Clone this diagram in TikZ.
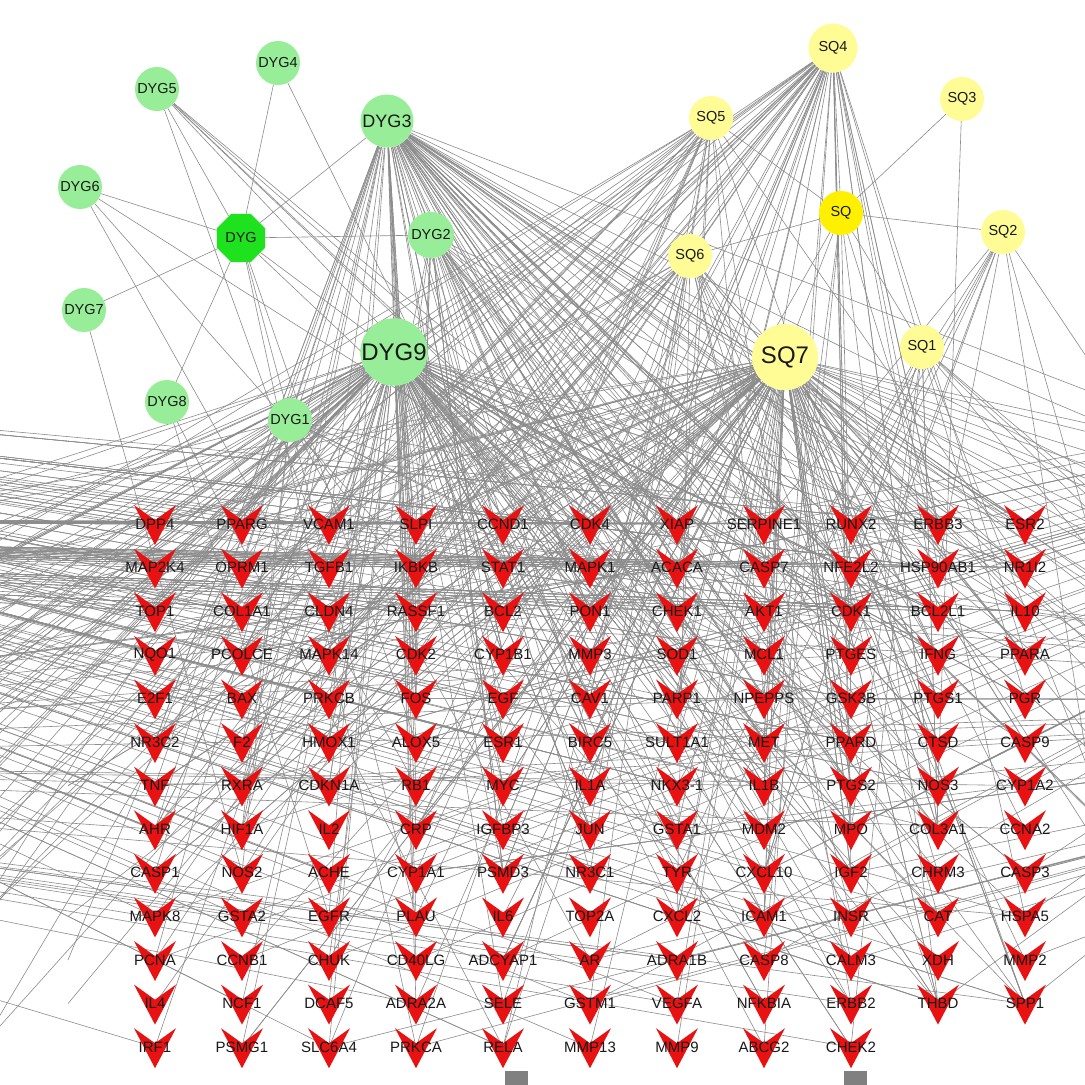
\documentclass[tikz,border=0pt]{standalone}
\usepackage{fontspec}
\setmainfont{Liberation Sans}
\usepackage{tikz}
\usetikzlibrary{shapes.geometric}
\usepackage{xcolor}

\pgfdeclarelayer{links}
\pgfsetlayers{links,main}

\definecolor{herbgreen}{RGB}{152,238,152}
\definecolor{hubgreen}{RGB}{30,226,30}
\definecolor{herbyellow}{RGB}{255,252,150}
\definecolor{hubyellow}{RGB}{255,240,0}
\definecolor{veered}{RGB}{232,18,18}
\definecolor{linkgray}{RGB}{140,140,140}

% #1 source, #2 how many, #3-#4 columns, #5-#6 rows
\newcommand\fan[6]{%
  \foreach \k in {1,...,#2}{%
    \pgfmathrandominteger{\c}{#3}{#4}%
    \pgfmathrandominteger{\r}{#5}{#6}%
    \ifnum\r=13 \ifnum\c>9 \def\r{12}\fi\fi
    \draw[link] (#1) -- (t\c-\r.center);
  }}

\begin{document}
\begin{tikzpicture}[x=1pt, y=-1pt,
    herb/.style={circle, fill=herbgreen, minimum size=44pt, inner sep=0pt, text=black!90, font=\fontsize{14.5}{14.5}\selectfont},
    sqherb/.style={herb, fill=herbyellow},
    hub/.style={regular polygon, regular polygon sides=8, fill=hubgreen, minimum size=52pt, inner sep=0pt, text=black!90, font=\fontsize{14.5}{14.5}\selectfont},
    gene/.style={inner sep=0pt, text=black!90, font=\fontsize{15}{15}\selectfont},
    stub/.style={rectangle, fill=black!50, minimum size=23pt, inner sep=0pt},
    link/.style={draw=linkgray, line width=0.6pt},
    vee/.pic={\fill[veered] (-21,-19) -- (0,-4) -- (21,-19) -- (0,21) -- cycle;}
]
\useasboundingbox (0,0) rectangle (1085,1085);
\clip (0,0) rectangle (1085,1085);

% DYG herbs
\node[hub] (DYG) at (241,238) {DYG};
\node[herb] (DYG4) at (278,63) {DYG4};
\node[herb] (DYG5) at (157,89) {DYG5};
\node[herb, minimum size=53pt, font=\fontsize{18}{18}\selectfont] (DYG3) at (387,121) {DYG3};
\node[herb] (DYG6) at (80,187) {DYG6};
\node[herb, minimum size=46pt] (DYG2) at (431,235) {DYG2};
\node[herb] (DYG7) at (84,310) {DYG7};
\node[herb, minimum size=66pt, font=\fontsize{24}{24}\selectfont] (DYG9) at (394,352) {DYG9};
\node[herb] (DYG8) at (167,402) {DYG8};
\node[herb] (DYG1) at (290,420) {DYG1};

% SQ herbs
\node[sqherb, fill=hubyellow] (SQ) at (841,213) {SQ};
\node[sqherb, minimum size=49pt] (SQ4) at (833,48) {SQ4};
\node[sqherb] (SQ3) at (962,99) {SQ3};
\node[sqherb] (SQ5) at (711,118) {SQ5};
\node[sqherb] (SQ2) at (1003,232) {SQ2};
\node[sqherb] (SQ6) at (690,256) {SQ6};
\node[sqherb] (SQ1) at (922,347) {SQ1};
\node[sqherb, minimum size=66pt, font=\fontsize{24}{24}\selectfont] (SQ7) at (785,357) {SQ7};

% Targets
\foreach \col [count=\c] in {
    {DPP4,MAP2K4,TOP1,NQO1,E2F1,NR3C2,TNF,AHR,CASP1,MAPK8,PCNA,IL4,IRF1},
    {PPARG,OPRM1,COL1A1,PCOLCE,BAX,F2,RXRA,HIF1A,NOS2,GSTA2,CCNB1,NCF1,PSMG1},
    {VCAM1,TGFB1,CLDN4,MAPK14,PRKCB,HMOX1,CDKN1A,IL2,ACHE,EGFR,CHUK,DCAF5,SLC6A4},
    {SLPI,IKBKB,RASSF1,CDK2,FOS,ALOX5,RB1,CRP,CYP1A1,PLAU,CD40LG,ADRA2A,PRKCA},
    {CCND1,STAT1,BCL2,CYP1B1,EGF,ESR1,MYC,IGFBP3,PSMD3,IL6,ADCYAP1,SELE,RELA},
    {CDK4,MAPK1,PON1,MMP3,CAV1,BIRC5,IL1A,JUN,NR3C1,TOP2A,AR,GSTM1,MMP13},
    {XIAP,ACACA,CHEK1,SOD1,PARP1,SULT1A1,NKX3-1,GSTA1,TYR,CXCL2,ADRA1B,VEGFA,MMP9},
    {SERPINE1,CASP7,AKT1,MCL1,NPEPPS,MET,IL1B,MDM2,CXCL10,ICAM1,CASP8,NFKBIA,ABCG2},
    {RUNX2,NFE2L2,CDK1,PTGES,GSK3B,PPARD,PTGS2,MPO,IGF2,INSR,CALM3,ERBB2,CHEK2},
    {ERBB3,HSP90AB1,BCL2L1,IFNG,PTGS1,CTSD,NOS3,COL3A1,CHRM3,CAT,XDH,THBD},
    {ESR2,NR1I2,IL10,PPARA,PGR,CASP9,CYP1A2,CCNA2,CASP3,HSPA5,MMP2,SPP1}}{
  \foreach \g [count=\r] in \col {
    \pic at ({155+87*(\c-1)},{524+43.6*(\r-1)}) {vee};
    \node[gene] (t\c-\r) at ({155+87*(\c-1)},{524+43.6*(\r-1)}) {\g};
  }}

% cut-off nodes at the bottom
\node[stub] (stubA) at (516,1082) {};
\node[stub] (stubB) at (855,1082) {};

% targets and herbs beyond the frame
\foreach \c in {-5,...,0}
  \foreach \r in {1,...,13}
    \coordinate (t\c-\r) at ({155+87*(\c-1)},{524+43.6*(\r-1)});
\foreach \c in {12,...,17}
  \foreach \r in {1,...,13}
    \coordinate (t\c-\r) at ({155+87*(\c-1)},{524+43.6*(\r-1)});
\coordinate (farA) at (-1100,330);
\coordinate (farB) at (-1600,515);
\coordinate (farC) at (-800,760);
\coordinate (farD) at (1900,300);
\coordinate (farE) at (1700,700);

\begin{pgfonlayer}{links}
\fill[white] (0,0) rectangle (1085,1085);
\pgfmathsetseed{11}
% herb to formula
\foreach \h in {DYG1,DYG2,DYG3,DYG4,DYG5,DYG6,DYG7,DYG8,DYG9}
  \draw[link] (DYG) -- (\h);
\foreach \h in {SQ1,SQ2,SQ3,SQ4,SQ5,SQ6,SQ7}
  \draw[link] (SQ) -- (\h);
% herb to target
\fan{DYG9}{75}{1}{11}{1}{13}
\fan{DYG9}{35}{1}{11}{1}{8}
\fan{DYG9}{35}{-5}{0}{1}{13}
\fan{SQ7}{75}{1}{11}{1}{13}
\fan{SQ7}{35}{1}{11}{1}{8}
\fan{SQ7}{12}{-5}{0}{1}{13}
\fan{SQ7}{15}{12}{17}{1}{13}
\fan{DYG3}{50}{1}{11}{1}{13}
\fan{DYG3}{20}{4}{11}{1}{8}
\fan{DYG3}{14}{12}{17}{1}{13}
\fan{DYG2}{28}{3}{11}{1}{13}
\fan{SQ4}{40}{1}{11}{1}{13}
\fan{SQ4}{8}{-3}{0}{1}{13}
\fan{SQ5}{20}{1}{11}{1}{13}
\fan{SQ5}{6}{-4}{0}{1}{13}
\fan{SQ6}{20}{1}{11}{1}{13}
\fan{SQ6}{6}{-4}{0}{1}{13}
\fan{SQ}{6}{5}{11}{1}{13}
\fan{SQ2}{8}{6}{11}{1}{13}
\fan{SQ2}{3}{12}{15}{1}{13}
\fan{SQ1}{8}{7}{11}{1}{13}
\fan{SQ1}{6}{12}{17}{1}{13}
\fan{SQ3}{1}{10}{10}{1}{13}
\fan{DYG5}{6}{3}{11}{1}{13}
\fan{DYG6}{3}{2}{8}{1}{13}
\fan{DYG7}{1}{2}{3}{1}{13}
\fan{DYG8}{2}{2}{5}{1}{13}
\fan{DYG1}{10}{1}{11}{1}{13}
\fan{DYG1}{4}{-4}{0}{1}{13}
\fan{DYG4}{1}{4}{8}{1}{13}
\fan{DYG}{3}{2}{6}{1}{13}
% herbs outside the frame
\fan{farA}{80}{1}{11}{1}{13}
\fan{farA}{40}{1}{11}{1}{7}
\fan{farB}{80}{1}{11}{1}{3}
\fan{farC}{30}{1}{11}{1}{13}
\fan{farD}{45}{1}{11}{1}{13}
\fan{farE}{30}{1}{11}{1}{13}
\end{pgfonlayer}
\end{tikzpicture}
\end{document}
